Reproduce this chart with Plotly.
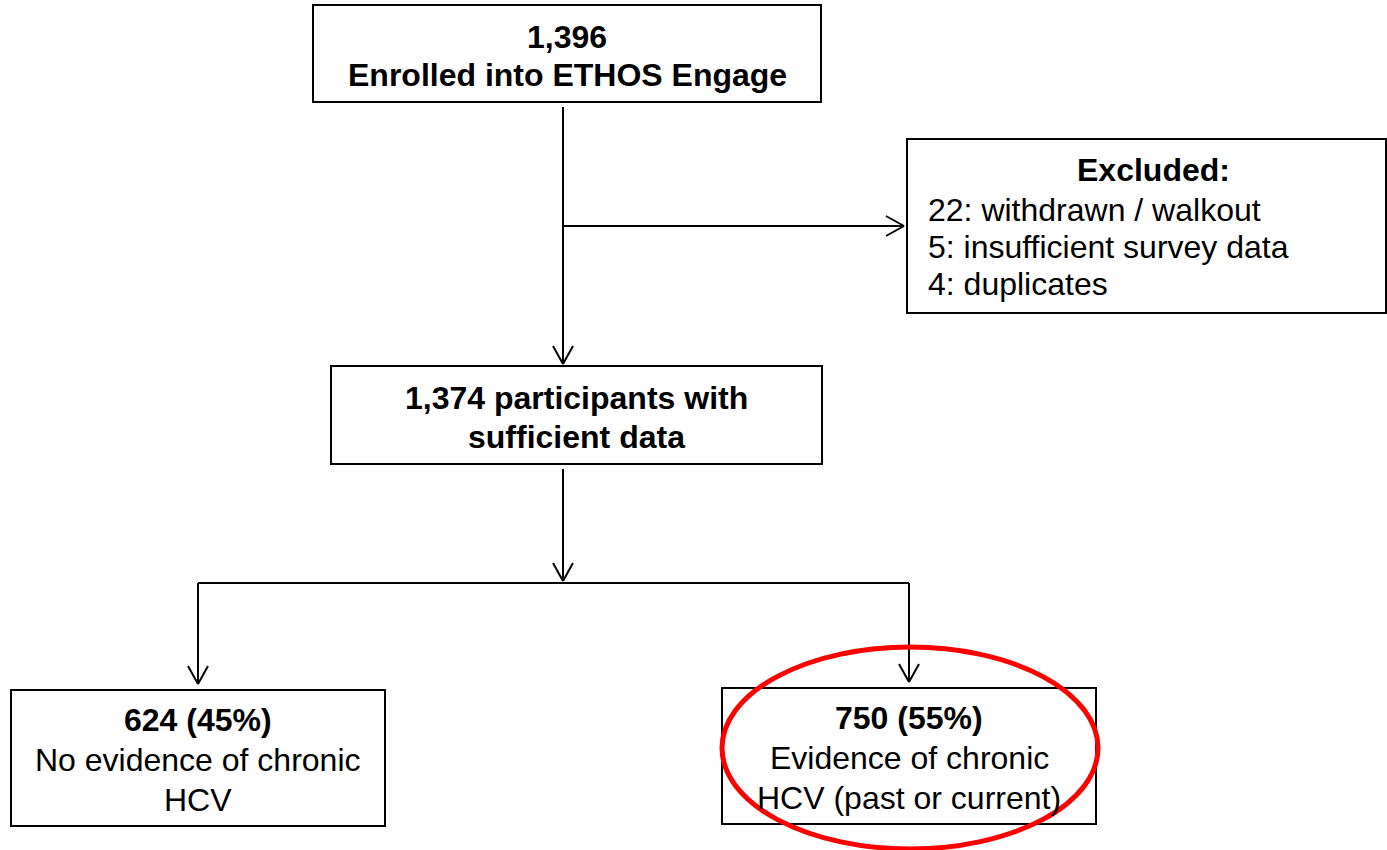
import plotly.graph_objects as go

# ---- data ----
enrolled = 1396
study_name = "ETHOS Engage"
excluded_counts = [22, 5, 4]
excluded_reasons = ["withdrawn / walkout", "insufficient survey data", "duplicates"]
sufficient = 1374
outcome_counts = [624, 750]
outcome_pcts = [45, 55]
outcome_labels = [["No evidence of chronic", "HCV"], ["Evidence of chronic", "HCV (past or current)"]]

# ---- layout geometry (pixels) ----
W, H = 1387, 850
FONT = "Liberation Sans, Arial, sans-serif"
FS = 32
LINE = dict(color="black", width=2)

box_enrolled = (313, 5, 821, 102)
box_excl = (907, 139, 1386, 313)
box_suff = (331, 366, 822, 464)
box_out = [(11, 690, 385, 826), (722, 688, 1096, 824)]

shapes = []
annotations = []

def rect(b):
    x0, y0, x1, y1 = b
    shapes.append(dict(type="rect", x0=x0, y0=y0, x1=x1, y1=y1, line=LINE, fillcolor="white", layer="below"))

def seg(x0, y0, x1, y1):
    shapes.append(dict(type="line", x0=x0, y0=y0, x1=x1, y1=y1, line=LINE))

def arrow(x0, y0, x1, y1, back=18, half=10):
    seg(x0, y0, x1, y1)
    dx, dy = x1 - x0, y1 - y0
    L = (dx * dx + dy * dy) ** 0.5
    ux, uy = dx / L, dy / L
    px, py = -uy, ux
    bx, by = x1 - ux * back, y1 - uy * back
    seg(x1, y1, bx + px * half, by + py * half)
    seg(x1, y1, bx - px * half, by - py * half)

def text(x, y, s, bold=False, anchor="center"):
    annotations.append(dict(x=x, y=y, text=f"<b>{s}</b>" if bold else s, showarrow=False,
                            xanchor=anchor, yanchor="middle",
                            font=dict(family=FONT, size=FS, color="black")))

for b in [box_enrolled, box_excl, box_suff] + box_out:
    rect(b)

cx = 563
# top box texts
text((box_enrolled[0] + box_enrolled[2]) / 2, 37, f"{enrolled:,}", bold=True)
text((box_enrolled[0] + box_enrolled[2]) / 2, 75, f"Enrolled into {study_name}", bold=True)

# exclusion box
text(1153, 170, "Excluded:", bold=True)
for i, (n, r) in enumerate(zip(excluded_counts, excluded_reasons)):
    text(926, 210 + i * 37, f"{n}: {r}", anchor="left")

# sufficient box
text((box_suff[0] + box_suff[2]) / 2, 398, f"{sufficient:,} participants with", bold=True)
text((box_suff[0] + box_suff[2]) / 2, 437, "sufficient data", bold=True)

# outcome boxes
out_cx = [198, 909]
for i in range(2):
    y0 = box_out[i][1]
    text(out_cx[i], y0 + 30, f"{outcome_counts[i]} ({outcome_pcts[i]}%)", bold=True)
    text(out_cx[i], y0 + 70, outcome_labels[i][0])
    text(out_cx[i], y0 + 110, outcome_labels[i][1])

# connectors
arrow(cx, 107, cx, 364)
arrow(cx, 226, 904, 226)
arrow(cx, 469, cx, 581)
seg(out_cx[0], 583, out_cx[1], 583)
arrow(out_cx[0], 583, out_cx[0], 684)
arrow(out_cx[1], 583, out_cx[1], 682)

# red highlight ellipse
shapes.append(dict(type="circle", x0=722, y0=647, x1=1098, y1=849,
                   line=dict(color="#FF0000", width=5), layer="above"))

fig = go.Figure()
fig.update_layout(
    width=W, height=H, margin=dict(l=0, r=0, t=0, b=0),
    paper_bgcolor="white", plot_bgcolor="white",
    xaxis=dict(range=[0, W], visible=False, fixedrange=True),
    yaxis=dict(range=[H, 0], visible=False, fixedrange=True),
    shapes=shapes, annotations=annotations, showlegend=False,
)
fig.write_html("out.html", config={"displayModeBar": False},
               post_script="document.body.style.margin='0';")
